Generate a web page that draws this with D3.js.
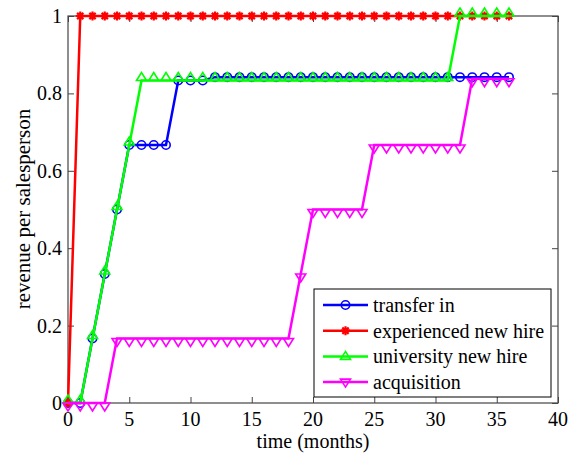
<!DOCTYPE html>
<html><head><meta charset="utf-8">
<script src="https://cdn.jsdelivr.net/npm/d3@7"></script>
<style>
body{margin:0;background:#fff}svg{display:block}
.lbl{position:absolute;left:0;top:0;font-family:'Liberation Serif','Times New Roman',serif;color:#000;white-space:nowrap;transform-origin:0 0}
</style>
</head><body>
<div id="wrap" style="position:relative;width:577px;height:456px">
<svg id="c" width="577" height="456"></svg>
</div>
<script>
const months = d3.range(0, 37);
const transferIn = [0,0,1/6,2/6,3/6,4/6,4/6,4/6,4/6,5/6,5/6,5/6,
  0.842,0.842,0.842,0.842,0.842,0.842,0.842,0.842,0.842,0.842,0.842,0.842,0.842,
  0.842,0.842,0.842,0.842,0.842,0.842,0.842,0.842,0.842,0.842,0.842,0.842];
const experienced = [0,1,1,1,1,1,1,1,1,1,1,1,1,1,1,1,1,1,1,1,1,1,1,1,1,1,1,1,1,1,1,1,1,1,1,1,1];
const university = [0,0,1/6,2/6,3/6,4/6,5/6,5/6,5/6,5/6,5/6,5/6,5/6,5/6,5/6,5/6,5/6,5/6,5/6,5/6,
  5/6,5/6,5/6,5/6,5/6,5/6,5/6,5/6,5/6,5/6,5/6,5/6,1,1,1,1,1];
const acquisition = [0,0,0,0,1/6,1/6,1/6,1/6,1/6,1/6,1/6,1/6,1/6,1/6,1/6,1/6,1/6,1/6,1/6,2/6,
  3/6,3/6,3/6,3/6,3/6,4/6,4/6,4/6,4/6,4/6,4/6,4/6,4/6,0.838,0.838,0.838,0.838];
const seriesNames = ["transfer in","experienced new hire","university new hire","acquisition"];
const seriesColors = ["#0000ff","#ff0000","#00ff00","#ff00ff"];
const seriesMarkers = ["circle","star","up","down"];
const xTicks = [0,5,10,15,20,25,30,35,40];
const yTicks = [0,0.2,0.4,0.6,0.8,1];
const xLabel = "time (months)";
const yLabel = "revenue per salesperson";
const seriesValues = [transferIn, experienced, university, acquisition];

const svg = d3.select("#c");
const wrap = d3.select("#wrap");
const L=68,R=558,T=16,B=403;
const x = d3.scaleLinear().domain([0,40]).range([L,R]);
const y = d3.scaleLinear().domain([0,1]).range([B,T]);

function addText(str, px, py, ax, ay, size, rot){
  wrap.append("div").attr("class","lbl").text(str)
    .style("font-size",size+"px").style("line-height",size+"px")
    .style("transform",`translate(${px}px,${py}px) rotate(${rot||0}deg) translate(${-ax*100}%,${-ay*100}%)`);
}

function marker(g, type, color){
  if(type==="circle"){
    g.append("circle").attr("r",4.2).attr("fill","none").attr("stroke",color).attr("stroke-width",1.6);
  } else if(type==="star"){
    const s=4.5;
    g.append("path").attr("d",`M${-s},0H${s}M0,${-s}V${s}M${-s*0.7},${-s*0.7}L${s*0.7},${s*0.7}M${-s*0.7},${s*0.7}L${s*0.7},${-s*0.7}`)
      .attr("stroke",color).attr("stroke-width",2.2).attr("fill","none");
  } else if(type==="up"){
    g.append("path").attr("d","M-5,0L5,0L0,-8Z").attr("fill","none").attr("stroke",color).attr("stroke-width",1.6);
  } else {
    g.append("path").attr("d","M-5,0L5,0L0,8Z").attr("fill","none").attr("stroke",color).attr("stroke-width",1.6);
  }
}

svg.append("rect").attr("x",L).attr("y",T).attr("width",R-L).attr("height",B-T)
  .attr("fill","none").attr("stroke","#444").attr("stroke-width",1.2);

const gx = svg.append("g").attr("transform",`translate(0,${B})`)
  .call(d3.axisBottom(x).tickValues(xTicks).tickSize(-6).tickFormat(""));
const gxt = svg.append("g").attr("transform",`translate(0,${T})`)
  .call(d3.axisTop(x).tickValues(xTicks).tickSize(-6).tickFormat(""));
const gy = svg.append("g").attr("transform",`translate(${L},0)`)
  .call(d3.axisLeft(y).tickValues(yTicks).tickSize(-6).tickFormat(""));
const gyr = svg.append("g").attr("transform",`translate(${R},0)`)
  .call(d3.axisRight(y).tickValues(yTicks).tickSize(-6).tickFormat(""));
[gx,gxt,gy,gyr].forEach(g=>{
  g.select(".domain").remove();
  g.selectAll(".tick line").attr("stroke","#444");
  g.selectAll("text").remove();
});

const yFmt = d=>d===0||d===1?String(d):d3.format(".1f")(d);
xTicks.forEach(t=>addText(d3.format("d")(t), x(t), B+6, 0.5, 0, 20, 0));
yTicks.forEach(t=>addText(yFmt(t), L-6, y(t), 1, 0.5, 20, 0));

const line = d3.line().x((d,i)=>x(months[i])).y(d=>y(d));
seriesValues.forEach((vals,k)=>{
  const g = svg.append("g");
  g.append("path").attr("d",line(vals)).attr("fill","none").attr("stroke",seriesColors[k]).attr("stroke-width",2.5);
  vals.forEach((v,i)=>{
    const m = g.append("g").attr("transform",`translate(${x(months[i])},${y(v)})`);
    marker(m, seriesMarkers[k], seriesColors[k]);
  });
});

addText(xLabel, (L+R)/2, 441, 0.5, 0.5, 20, 0);
addText(yLabel, 23, 209, 0.5, 0.5, 21, -90);

const lg = svg.append("g");
lg.append("rect").attr("x",314).attr("y",289).attr("width",237).attr("height",108)
  .attr("fill","#fff").attr("stroke","#000").attr("stroke-width",1);
seriesNames.forEach((n,k)=>{
  const yy = 305 + k*25.7;
  lg.append("line").attr("x1",323).attr("x2",368).attr("y1",yy).attr("y2",yy)
    .attr("stroke",seriesColors[k]).attr("stroke-width",2.5);
  const m = lg.append("g").attr("transform",`translate(345.5,${yy + (seriesMarkers[k]==="up"?3:seriesMarkers[k]==="down"?-3:0)})`);
  marker(m, seriesMarkers[k], seriesColors[k]);
  addText(n, 373, yy, 0, 0.5, 20, 0);
});
</script>
</body></html>
